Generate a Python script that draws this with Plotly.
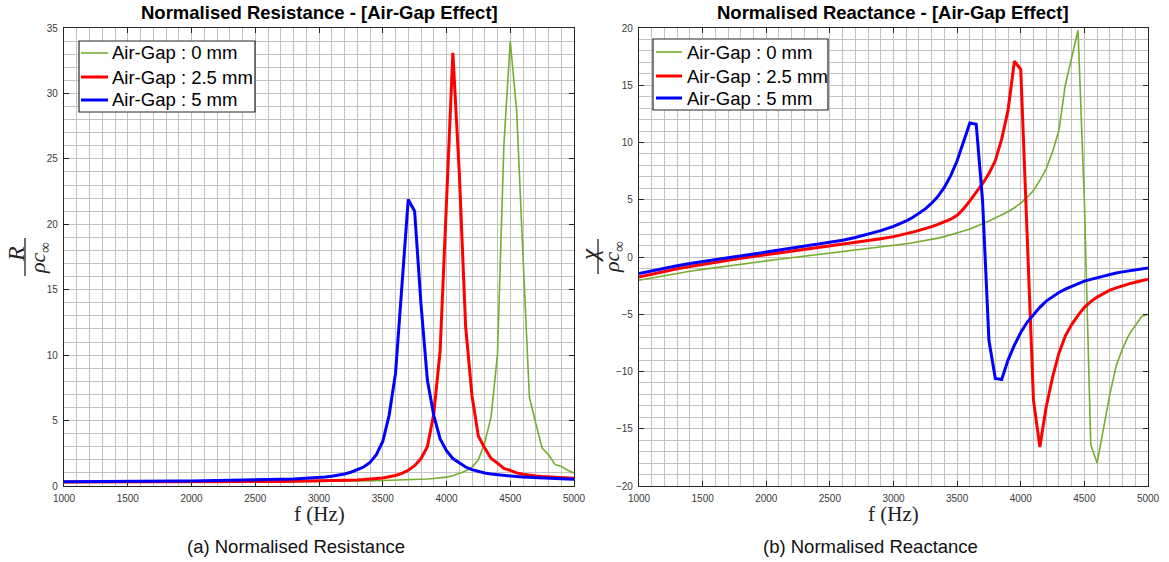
import plotly.graph_objects as go

# ---------------------------------------------------------------------------
# Data: frequency axis and normalised impedance for three air-gap depths
# ---------------------------------------------------------------------------
freq = list(range(1000, 3001, 100)) + list(range(3050, 5001, 50))

gap_labels = ["Air-Gap : 0 mm", "Air-Gap : 2.5 mm", "Air-Gap : 5 mm"]

# Normalised resistance R / (rho c)
res_gap0 = [0.30, 0.30, 0.30, 0.30, 0.30, 0.30, 0.30, 0.31, 0.31, 0.31, 0.31,
            0.31, 0.32, 0.32, 0.32, 0.33, 0.33, 0.34, 0.34, 0.35, 0.35,
            0.36, 0.36, 0.37, 0.37, 0.38, 0.38, 0.39, 0.40, 0.41, 0.42,
            0.43, 0.44, 0.45, 0.46, 0.48, 0.50, 0.53, 0.57, 0.61, 0.68,
            0.79, 0.95, 1.15, 1.43, 2.0, 3.3, 5.3, 10.1, 26.0, 34.0,
            28.7, 17.6, 6.8, 4.8, 2.9, 2.4, 1.65, 1.5, 1.2, 1.0]
res_gap25 = [0.30, 0.30, 0.30, 0.30, 0.30, 0.30, 0.31, 0.31, 0.31, 0.31, 0.32,
             0.32, 0.32, 0.33, 0.33, 0.34, 0.35, 0.35, 0.36, 0.37, 0.38,
             0.39, 0.40, 0.41, 0.43, 0.44, 0.46, 0.49, 0.52, 0.56, 0.62,
             0.70, 0.80, 0.96, 1.20, 1.55, 2.10, 3.0, 5.5, 10.3, 21.8,
             33.1, 24.0, 12.2, 6.9, 3.8, 2.9, 2.1, 1.75, 1.35, 1.2,
             1.0, 0.9, 0.82, 0.77, 0.73, 0.70, 0.67, 0.65, 0.62, 0.60]
res_gap5 = [0.33, 0.33, 0.34, 0.34, 0.35, 0.35, 0.36, 0.36, 0.37, 0.38, 0.39,
            0.40, 0.41, 0.42, 0.44, 0.46, 0.48, 0.51, 0.54, 0.58, 0.64,
            0.68, 0.74, 0.82, 0.92, 1.05, 1.22, 1.45, 1.8, 2.4, 3.4,
            5.4, 8.6, 15.2, 21.9, 21.0, 13.9, 8.1, 5.4, 3.6, 2.7,
            2.1, 1.75, 1.45, 1.25, 1.1, 1.0, 0.92, 0.86, 0.80, 0.76,
            0.72, 0.68, 0.65, 0.62, 0.60, 0.58, 0.56, 0.55, 0.53, 0.52]

# Normalised reactance chi / (rho c)
rea_gap0 = [-2.03, -1.82, -1.62, -1.43, -1.25, -1.08, -0.92, -0.77, -0.62, -0.48, -0.34,
            -0.20, -0.07, 0.06, 0.19, 0.32, 0.45, 0.58, 0.72, 0.86, 1.0,
            1.08, 1.16, 1.25, 1.34, 1.43, 1.53, 1.65, 1.78, 1.93, 2.1,
            2.27, 2.45, 2.65, 2.9, 3.15, 3.4, 3.65, 3.95, 4.3, 4.7,
            5.2, 5.8, 6.7, 7.7, 9.2, 11.05, 15.0, 17.3, 19.8, 4.9,
            -16.4, -18.0, -15.0, -12.0, -9.5, -8.0, -6.8, -6.0, -5.2, -5.0]
rea_gap25 = [-1.75, -1.49, -1.25, -1.03, -0.83, -0.64, -0.46, -0.29, -0.12, 0.04, 0.19,
             0.34, 0.49, 0.64, 0.79, 0.94, 1.10, 1.26, 1.43, 1.60, 1.78,
             1.90, 2.02, 2.17, 2.33, 2.48, 2.65, 2.85, 3.05, 3.3, 3.65,
             4.2, 4.9, 5.6, 6.4, 7.3, 8.4, 10.3, 12.8, 17.1, 16.4,
             2.0, -12.5, -16.6, -13.1, -10.5, -8.4, -6.9, -5.9, -5.1, -4.4,
             -3.9, -3.5, -3.2, -2.9, -2.7, -2.5, -2.35, -2.2, -2.07, -1.95]
rea_gap5 = [-1.45, -1.20, -0.97, -0.76, -0.57, -0.39, -0.22, -0.05, 0.11, 0.27, 0.43,
            0.60, 0.77, 0.94, 1.10, 1.27, 1.46, 1.70, 1.98, 2.30, 2.68,
            2.9, 3.15, 3.45, 3.8, 4.2, 4.7, 5.3, 6.1, 7.1, 8.4,
            10.0, 11.7, 11.6, 4.9, -7.3, -10.6, -10.7, -9.0, -7.7, -6.6,
            -5.7, -5.0, -4.4, -3.85, -3.45, -3.1, -2.8, -2.55, -2.3, -2.1,
            -1.95, -1.8, -1.65, -1.52, -1.4, -1.3, -1.2, -1.1, -1.03, -0.96]

line_colors = ["#77AC30", "#FF0000", "#0000FF"]
line_widths = [1.6, 3, 3]

W, H = 1169, 562
SANS = "Liberation Sans, Arial, sans-serif"
SERIF = "Liberation Serif, Times New Roman, serif"
AXIS_COLOR = "#262626"
GRID_COLOR = "#c2c2c2"


def px(xp):
    return xp / W


def py(yp):
    return 1 - yp / H


fig = go.Figure()

res_series = [res_gap0, res_gap25, res_gap5]
rea_series = [rea_gap0, rea_gap25, rea_gap5]

for name, vals, col, lw in zip(gap_labels, res_series, line_colors, line_widths):
    fig.add_trace(go.Scatter(x=freq, y=vals, mode="lines", name=name,
                             line=dict(color=col, width=lw),
                             xaxis="x", yaxis="y", showlegend=False))

for name, vals, col, lw in zip(gap_labels, rea_series, line_colors, line_widths):
    fig.add_trace(go.Scatter(x=freq, y=vals, mode="lines", name=name,
                             line=dict(color=col, width=lw),
                             xaxis="x2", yaxis="y2", showlegend=False))


def axis_style(**kw):
    base = dict(showline=True, linecolor=AXIS_COLOR, linewidth=1.2, mirror="ticks",
                ticks="inside", ticklen=5, tickcolor=AXIS_COLOR, tickwidth=1,
                showgrid=True, gridcolor=GRID_COLOR, gridwidth=1, zeroline=False,
                tickfont=dict(family=SANS, size=10, color="#3a3a3a"),
                ticklabelstandoff=3, fixedrange=True, automargin=False)
    base.update(kw)
    return base


x_minor = dict(dtick=100, showgrid=True, gridcolor=GRID_COLOR, gridwidth=1, ticks="")
y_minor = dict(dtick=1, showgrid=True, gridcolor=GRID_COLOR, gridwidth=1, ticks="")

left_dom = [px(64), px(574)]
right_dom = [px(639), px(1148)]
y_dom = [py(486), py(28)]

fig.update_layout(
    width=W, height=H, autosize=False,
    margin=dict(l=0, r=0, t=0, b=0, pad=0, autoexpand=False),
    paper_bgcolor="white", plot_bgcolor="white",
    showlegend=False,
    xaxis=axis_style(domain=left_dom, range=[1000, 5000], dtick=500, tick0=1000,
                     minor=x_minor, anchor="y"),
    yaxis=axis_style(domain=y_dom, range=[0, 35], dtick=5, minor=y_minor, anchor="x"),
    xaxis2=axis_style(domain=right_dom, range=[1000, 5000], dtick=500, tick0=1000,
                      minor=x_minor, anchor="y2"),
    yaxis2=axis_style(domain=y_dom, range=[-20, 20], dtick=5, minor=y_minor, anchor="x2"),
)

annotations = []
shapes = []


def note(x, y, text, size, family=SANS, angle=0, color="black", xanchor="center"):
    annotations.append(dict(x=px(x), y=py(y), xref="paper", yref="paper",
                            text=text, showarrow=False, textangle=angle,
                            xanchor=xanchor, yanchor="middle",
                            font=dict(family=family, size=size, color=color)))


# Panel titles
note(319, 13, "<b>Normalised Resistance - [Air-Gap Effect]</b>", 18.5)
note(893, 13, "<b>Normalised Reactance - [Air-Gap Effect]</b>", 18.5)

# Frequency axis titles
note(319, 514, "f (Hz)", 21, family=SERIF, color="#222")
note(893, 514, "f (Hz)", 21, family=SERIF, color="#222")

# Sub-figure captions
note(296, 546, "(a) Normalised Resistance", 18.5, color="#111")
note(870, 546, "(b) Normalised Reactance", 18.5, color="#111")

# Fraction-style y-axis labels
note(16, 254, "<i>R</i>", 24, family=SERIF, angle=-90, color="#222")
note(39, 258, "<i>ρc</i><sub>∞</sub>", 22, family=SERIF, angle=-90, color="#222")
note(589, 255, "<i>χ</i>", 25, family=SERIF, angle=-90, color="#222")
note(613, 257, "<i>ρc</i><sub>∞</sub>", 22, family=SERIF, angle=-90, color="#222")

for xb, y0, y1 in [(25, 238, 276), (598, 239, 274)]:
    shapes.append(dict(type="line", xref="paper", yref="paper",
                       x0=px(xb), x1=px(xb), y0=py(y0), y1=py(y1),
                       line=dict(color="#222", width=1.3)))

# Legend boxes: frame, line samples and labels for each panel
legend_boxes = [
    dict(box=(79, 41, 255, 112), line_x=(81, 108), text_x=110, rows=(53, 77, 100)),
    dict(box=(653, 39, 828, 110), line_x=(656, 682), text_x=685, rows=(52, 76, 98)),
]
for lg in legend_boxes:
    x0, y0, x1, y1 = lg["box"]
    shapes.append(dict(type="rect", xref="paper", yref="paper",
                       x0=px(x0), x1=px(x1), y0=py(y1), y1=py(y0),
                       fillcolor="white", line=dict(color=AXIS_COLOR, width=1.2),
                       layer="above"))
    for label, col, lw, ry in zip(gap_labels, line_colors, line_widths, lg["rows"]):
        shapes.append(dict(type="line", xref="paper", yref="paper",
                           x0=px(lg["line_x"][0]), x1=px(lg["line_x"][1]),
                           y0=py(ry), y1=py(ry),
                           line=dict(color=col, width=lw), layer="above"))
        note(lg["text_x"], ry, label, 18.5, xanchor="left")

fig.update_layout(annotations=annotations, shapes=shapes)

fig.write_html("out.html")
